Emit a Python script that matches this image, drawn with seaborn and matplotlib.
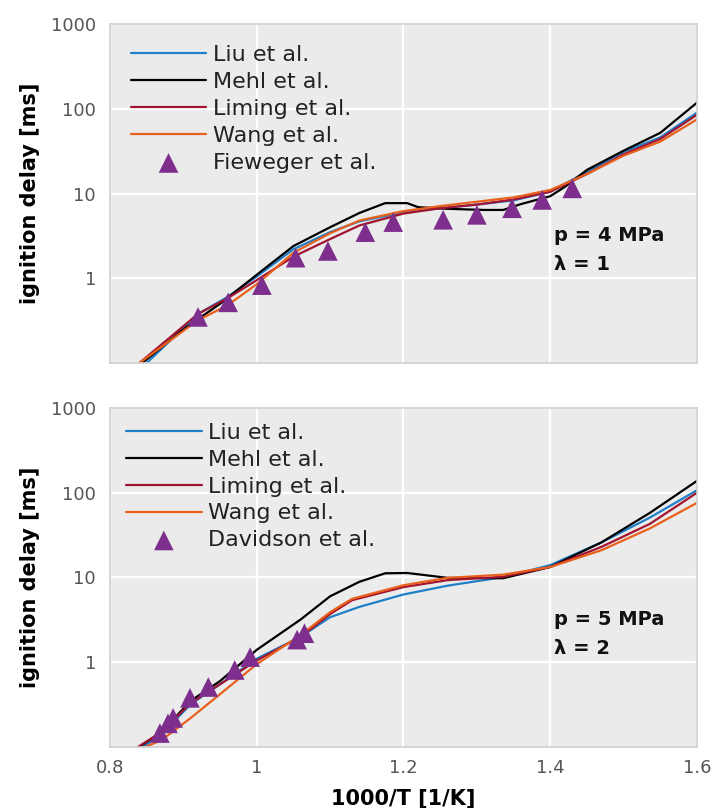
import numpy as np
import pandas as pd
import matplotlib
matplotlib.use("Agg")
import matplotlib.pyplot as plt
import seaborn as sns

# ---------------- data ----------------
# Top panel: p = 4 MPa, lambda = 1
top_liu_x = [0.85, 0.92, 0.96, 1.00, 1.05, 1.10, 1.14, 1.20, 1.25, 1.30, 1.35, 1.40, 1.45, 1.50, 1.55, 1.60]
top_liu_y = [0.1, 0.38, 0.60, 1.05, 2.2, 3.5, 4.7, 6.0, 6.7, 7.4, 8.3, 10.5, 18, 31, 46, 90]

top_mehl_x = [0.844, 0.90, 0.95, 1.00, 1.05, 1.10, 1.14, 1.175, 1.205, 1.22, 1.26, 1.31, 1.336, 1.36, 1.40, 1.42, 1.45, 1.50, 1.55, 1.60]
top_mehl_y = [0.1, 0.25, 0.50, 1.1, 2.4, 4.0, 5.9, 7.7, 7.7, 6.9, 6.6, 6.4, 6.4, 7.5, 9.3, 12, 19, 32, 52, 118]

top_liming_x = [0.84, 0.92, 0.96, 1.00, 1.05, 1.10, 1.14, 1.20, 1.25, 1.30, 1.35, 1.40, 1.45, 1.50, 1.55, 1.60]
top_liming_y = [0.1, 0.38, 0.58, 0.95, 1.8, 2.9, 4.2, 5.8, 6.7, 7.4, 8.5, 10.5, 17, 29, 44, 85]

top_wang_x = [0.84, 0.92, 0.96, 1.00, 1.05, 1.10, 1.14, 1.20, 1.25, 1.30, 1.35, 1.40, 1.45, 1.50, 1.55, 1.60]
top_wang_y = [0.1, 0.32, 0.48, 0.85, 2.0, 3.4, 4.8, 6.2, 7.1, 8.0, 9.0, 11, 17, 28, 41, 75]

top_exp_x = [0.92, 0.961, 1.007, 1.053, 1.097, 1.148, 1.186, 1.254, 1.30, 1.348, 1.389, 1.43]
top_exp_y = [0.35, 0.52, 0.83, 1.75, 2.1, 3.5, 4.6, 4.9, 5.6, 6.7, 8.4, 11.5]

# Bottom panel: p = 5 MPa, lambda = 2
bot_liu_x = [0.845, 0.87, 0.91, 0.95, 1.00, 1.06, 1.10, 1.14, 1.20, 1.26, 1.336, 1.40, 1.47, 1.536, 1.60]
bot_liu_y = [0.1, 0.14, 0.32, 0.55, 1.1, 2.0, 3.4, 4.5, 6.3, 8.0, 10.1, 14, 26, 51, 107]

bot_mehl_x = [0.84, 0.87, 0.91, 0.95, 1.00, 1.06, 1.10, 1.14, 1.175, 1.205, 1.26, 1.336, 1.40, 1.47, 1.536, 1.60]
bot_mehl_y = [0.1, 0.15, 0.35, 0.60, 1.4, 3.2, 6.0, 8.9, 11.2, 11.3, 9.9, 9.8, 13.3, 26, 58, 138]

bot_liming_x = [0.838, 0.87, 0.91, 0.95, 1.00, 1.06, 1.10, 1.13, 1.20, 1.26, 1.336, 1.40, 1.47, 1.536, 1.60]
bot_liming_y = [0.1, 0.15, 0.33, 0.55, 1.05, 2.0, 3.7, 5.4, 7.7, 9.3, 10.2, 13.3, 23, 43, 100]

bot_wang_x = [0.848, 0.87, 0.91, 0.95, 1.00, 1.06, 1.10, 1.13, 1.20, 1.26, 1.336, 1.40, 1.47, 1.536, 1.60]
bot_wang_y = [0.1, 0.12, 0.22, 0.42, 0.95, 2.1, 3.9, 5.6, 8.1, 9.9, 10.8, 13.3, 21, 38, 76]

bot_exp_x = [0.868, 0.879, 0.886, 0.909, 0.934, 0.970, 0.991, 1.055, 1.065]
bot_exp_y = [0.146, 0.19, 0.22, 0.38, 0.51, 0.81, 1.15, 1.85, 2.2]

model_names = ["Liu et al.", "Mehl et al.", "Liming et al.", "Wang et al."]
model_colors = ["#1f7fc8", "#000000", "#a2142f", "#e8601c"]
exp_color = "#7e2f8e"

y_ticks = [1, 10, 100, 1000]
y_tick_labels = ["1", "10", "100", "1000"]
x_ticks = [0.8, 1.0, 1.2, 1.4, 1.6]
x_tick_labels = ["0.8", "1", "1.2", "1.4", "1.6"]

# ---------------- style ----------------
sns.set_theme(style="darkgrid")
plt.rcParams["font.family"] = ["DejaVu Sans"]
plt.rcParams["axes.facecolor"] = "#ebebeb"
plt.rcParams["grid.color"] = "white"
plt.rcParams["grid.linewidth"] = 1.6

fig = plt.figure(figsize=(7.11, 8.08), dpi=100)
ax_top = fig.add_axes([0.1547, 0.5507, 0.8256, 0.4196])
ax_bot = fig.add_axes([0.1547, 0.0755, 0.8256, 0.4196])

panels = [
    (ax_top,
     [(top_liu_x, top_liu_y), (top_mehl_x, top_mehl_y), (top_liming_x, top_liming_y), (top_wang_x, top_wang_y)],
     (top_exp_x, top_exp_y), "Fieweger et al.", "p = 4 MPa\n\u03bb = 1", (0.024, 0.957)),
    (ax_bot,
     [(bot_liu_x, bot_liu_y), (bot_mehl_x, bot_mehl_y), (bot_liming_x, bot_liming_y), (bot_wang_x, bot_wang_y)],
     (bot_exp_x, bot_exp_y), "Davidson et al.", "p = 5 MPa\n\u03bb = 2", (0.016, 0.976)),
]

for ax, models, exp, exp_name, note, anchor in panels:
    for (mx, my), name, col in zip(models, model_names, model_colors):
        df = pd.DataFrame({"x": mx, "y": my})
        sns.lineplot(data=df, x="x", y="y", ax=ax, color=col, linewidth=1.6,
                     label=name, sort=False, estimator=None)
    dfe = pd.DataFrame({"x": exp[0], "y": exp[1]})
    sns.scatterplot(data=dfe, x="x", y="y", ax=ax, color=exp_color, marker="^",
                    s=200, edgecolor="none", label=exp_name, zorder=5)
    ax.set_yscale("log")
    ax.set_ylim(0.1, 1000)
    ax.set_xlim(0.8, 1.6)
    ax.set_yticks(y_ticks)
    ax.set_yticklabels(y_tick_labels)
    ax.minorticks_off()
    ax.set_xticks(x_ticks)
    ax.tick_params(axis="both", labelsize=13, colors="#555555", length=0)
    ax.tick_params(axis="y", pad=10)
    ax.tick_params(axis="x", pad=9)
    ax.set_ylabel("ignition delay [ms]", fontsize=15, fontweight="bold", color="black", labelpad=8)
    for sp in ax.spines.values():
        sp.set_visible(True)
        sp.set_color("#d0d0d0")
        sp.set_linewidth(1.2)
    ax.text(0.756, 0.405, note, transform=ax.transAxes, fontsize=14, fontweight="bold",
            va="top", ha="left", linespacing=1.7, color="#111111")
    leg = ax.legend(loc="upper left", bbox_to_anchor=anchor, fontsize=16, frameon=False,
                    handlelength=3.4, handletextpad=0.3, labelspacing=0.31,
                    borderaxespad=0.0, borderpad=0.3)
    for t in leg.get_texts():
        t.set_color("#222222")

ax_top.set_xticklabels([])
ax_top.set_xlabel("")
ax_bot.set_xticklabels(x_tick_labels)
ax_bot.set_xlabel("1000/T [1/K]", fontsize=15, fontweight="bold", color="black", labelpad=8)

fig.savefig("out.png", dpi=100)
